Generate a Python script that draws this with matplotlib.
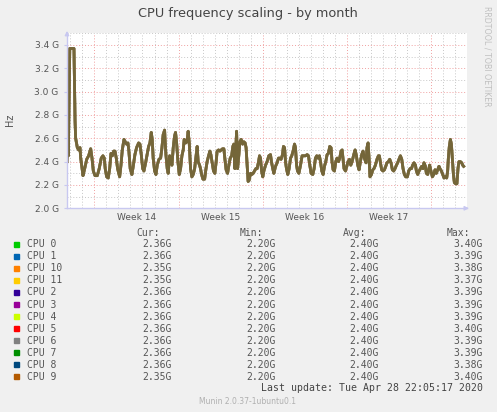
import matplotlib.pyplot as plt
from matplotlib.patches import Rectangle

# time in days since the left edge of the graph, frequency in GHz
days = [0.00, 0.05, 0.11, 0.23, 0.58, 0.67, 0.72, 0.86, 0.97, 1.08, 1.14, 1.22, 1.33, 1.47, 1.64, 1.80,
        1.97, 2.08, 2.19, 2.33, 2.52, 2.68, 2.85, 2.99, 3.10, 3.18, 3.30, 3.43, 3.55, 3.66, 3.77, 3.88,
        3.99, 4.10, 4.21, 4.38, 4.49, 4.60, 4.74, 4.85, 4.96, 5.07, 5.15, 5.26, 5.40, 5.51, 5.65, 5.79,
        5.96, 6.07, 6.18, 6.30, 6.40, 6.54, 6.68, 6.79, 6.90, 7.01, 7.09, 7.17, 7.29, 7.40, 7.51, 7.65,
        7.79, 7.90, 8.00, 8.12, 8.15, 8.23, 8.34, 8.42, 8.54, 8.62, 8.73, 8.84, 8.95, 9.03, 9.12, 9.23,
        9.34, 9.45, 9.56, 9.67, 9.75, 9.87, 9.98, 10.08, 10.17, 10.28, 10.39, 10.50, 10.62, 10.72, 10.83,
        10.91, 11.03, 11.11, 11.20, 11.31, 11.45, 11.55, 11.66, 11.78, 11.89, 11.97, 12.08, 12.19, 12.30,
        12.41, 12.49, 12.61, 12.72, 12.83, 12.94, 13.05, 13.13, 13.24, 13.36, 13.47, 13.58, 13.70, 13.80,
        13.88, 13.97, 14.11, 14.19, 14.30, 14.38, 14.49, 14.61, 14.71, 14.82, 14.90, 14.99, 15.07, 15.15,
        15.27, 15.38, 15.49, 15.60, 15.71, 15.82, 15.94, 16.02, 16.10, 16.19, 16.29, 16.38, 16.52, 16.65,
        16.79, 16.93, 17.01, 17.12, 17.21, 17.35, 17.48, 17.60, 17.71, 17.81, 17.93, 18.01, 18.10, 18.18,
        18.26, 18.37, 18.48, 18.60, 18.70, 18.81, 18.93, 19.01, 19.10, 19.18, 19.29, 19.43, 19.56, 19.70,
        19.84, 19.98, 20.09, 20.20, 20.31, 20.45, 20.56, 20.67, 20.78, 20.89, 21.00, 21.09, 21.20, 21.31,
        21.42, 21.53, 21.64, 21.75, 21.86, 21.97, 22.05, 22.14, 22.25, 22.36, 22.47, 22.59, 22.69, 22.80,
        22.89, 22.97, 23.05, 23.17, 23.28, 23.38, 23.50, 23.61, 23.72, 23.86, 23.97, 24.08, 24.19, 24.30,
        24.41, 24.52, 24.63, 24.74, 24.88, 24.96, 25.05, 25.13, 25.21, 25.33, 25.44, 25.54, 25.66, 25.79,
        25.91, 25.99, 26.08, 26.18, 26.29, 26.41, 26.52, 26.62, 26.74, 26.85, 26.96, 27.07, 27.18, 27.29,
        27.41, 27.51, 27.62, 27.74, 27.85, 27.96, 28.07, 28.18, 28.32, 28.43, 28.54, 28.66, 28.76, 28.87,
        28.99, 29.07, 29.18, 29.29, 29.41, 29.51, 29.62, 29.70, 29.82, 29.90, 30.01, 30.09, 30.17, 30.28,
        30.40, 30.51, 30.62, 30.73, 30.84, 30.95, 31.03, 31.15, 31.26, 31.37, 31.48, 31.59, 31.67, 31.73,
        31.81, 31.90, 31.98, 32.06, 32.15, 32.23, 32.34, 32.44, 32.53, 32.61, 32.73, 32.84, 32.92, 33.00]
freq = [2.40, 2.65, 2.45, 3.37, 3.37, 2.75, 2.60, 2.52, 2.50, 2.52, 2.43, 2.37, 2.28, 2.34, 2.42, 2.45,
        2.51, 2.43, 2.32, 2.28, 2.28, 2.34, 2.43, 2.45, 2.43, 2.34, 2.27, 2.26, 2.34, 2.47, 2.45, 2.49,
        2.49, 2.43, 2.34, 2.27, 2.37, 2.50, 2.59, 2.57, 2.55, 2.56, 2.49, 2.34, 2.29, 2.36, 2.46, 2.52,
        2.56, 2.55, 2.46, 2.34, 2.32, 2.39, 2.47, 2.53, 2.56, 2.65, 2.59, 2.43, 2.32, 2.29, 2.37, 2.42,
        2.43, 2.52, 2.63, 2.67, 2.60, 2.46, 2.34, 2.30, 2.45, 2.43, 2.37, 2.52, 2.62, 2.65, 2.56, 2.40,
        2.29, 2.34, 2.45, 2.50, 2.59, 2.56, 2.57, 2.66, 2.56, 2.34, 2.27, 2.29, 2.34, 2.43, 2.53,
        2.40, 2.37, 2.34, 2.29, 2.25, 2.25, 2.33, 2.40, 2.45, 2.49, 2.46, 2.39, 2.32, 2.30,
        2.40, 2.49, 2.50, 2.49, 2.50, 2.51, 2.51, 2.43, 2.33, 2.30, 2.37, 2.43, 2.45, 2.53,
        2.55, 2.34, 2.66, 2.34, 2.46, 2.57, 2.59, 2.55, 2.57, 2.56, 2.52, 2.37, 2.23, 2.24,
        2.30, 2.29, 2.30, 2.32, 2.34, 2.34, 2.40, 2.45, 2.43, 2.32, 2.27, 2.32, 2.37, 2.40,
        2.45, 2.46, 2.40, 2.34, 2.30, 2.36, 2.39, 2.43, 2.43, 2.42, 2.46, 2.53, 2.52, 2.40,
        2.34, 2.29, 2.34, 2.43, 2.45, 2.49, 2.55, 2.52, 2.37, 2.32, 2.30, 2.37, 2.45, 2.45,
        2.45, 2.46, 2.45, 2.37, 2.30, 2.29, 2.34, 2.43, 2.45, 2.43, 2.45, 2.40, 2.32, 2.29,
        2.36, 2.40, 2.46, 2.47, 2.53, 2.52, 2.40, 2.33, 2.32, 2.40, 2.43, 2.40, 2.43, 2.49,
        2.50, 2.42, 2.34, 2.32, 2.36, 2.40, 2.42, 2.37, 2.40, 2.46, 2.50, 2.45, 2.37, 2.33,
        2.40, 2.46, 2.49, 2.43, 2.39, 2.52, 2.56, 2.43, 2.27, 2.29, 2.33, 2.34, 2.37, 2.42,
        2.45, 2.45, 2.39, 2.33, 2.32, 2.33, 2.36, 2.39, 2.40, 2.42, 2.39, 2.33, 2.32, 2.34,
        2.37, 2.39, 2.42, 2.45, 2.42, 2.34, 2.29, 2.27, 2.27, 2.32, 2.34, 2.34, 2.37, 2.39,
        2.37, 2.32, 2.29, 2.32, 2.34, 2.36, 2.34, 2.39, 2.36, 2.30, 2.29, 2.33, 2.37, 2.32,
        2.27, 2.29, 2.33, 2.30, 2.33, 2.36, 2.34, 2.32, 2.29, 2.26, 2.27, 2.26, 2.32, 2.43,
        2.53, 2.59, 2.55, 2.43, 2.29, 2.22, 2.21, 2.21, 2.34, 2.40, 2.40, 2.39, 2.37, 2.36]

cpus = ["CPU 0", "CPU 1", "CPU 10", "CPU 11", "CPU 2", "CPU 3",
        "CPU 4", "CPU 5", "CPU 6", "CPU 7", "CPU 8", "CPU 9"]
colors = ["#00cc00", "#0066b3", "#ff8000", "#ffcc00", "#330099", "#990099",
          "#ccff00", "#ff0000", "#808080", "#008f00", "#00487d", "#b35a00"]
cur = [2.36, 2.36, 2.35, 2.35, 2.36, 2.36, 2.36, 2.36, 2.36, 2.36, 2.36, 2.35]
mins = [2.20] * 12
avg = [2.40] * 12
maxs = [3.40, 3.39, 3.38, 3.37, 3.39, 3.39, 3.39, 3.40, 3.39, 3.39, 3.38, 3.40]

week_starts = [2.28, 9.28, 16.28, 23.28, 30.28]
week_names = ["Week 14", "Week 15", "Week 16", "Week 17"]
y_ticks = [2.0, 2.2, 2.4, 2.6, 2.8, 3.0, 3.2, 3.4]
y_labels = ["2.0 G", "2.2 G", "2.4 G", "2.6 G", "2.8 G", "3.0 G", "3.2 G", "3.4 G"]

W, H = 497, 412
BG = "#f0f0f0"
TXT = "#555555"
AXC = "#c8c8f0"
MONO = "DejaVu Sans Mono"

fig = plt.figure(figsize=(W / 100, H / 100), dpi=100, facecolor=BG)
ax = fig.add_axes([67 / W, 1 - 208.3 / H, 400 / W, 175 / H])
ax.set_facecolor("white")

for name, c in zip(cpus, colors):
    ax.plot(days, freq, color=c, lw=2.0, alpha=0.25)

ax.set_xlim(0, 33.25)
ax.set_ylim(2.0, 3.5)

ax.set_yticks(y_ticks)
ax.set_yticklabels(y_labels)
ax.set_yticks([2.1, 2.3, 2.5, 2.7, 2.9, 3.1, 3.3, 3.5], minor=True)
ax.set_xticks(week_starts)
ax.set_xticklabels([])
day_lines = [0.28 + k for k in range(34) if k % 7 != 2]
ax.set_xticks(day_lines, minor=True)

ax.grid(True, which="major", color="#f0a0a0", lw=0.7, ls=(0, (1, 2)))
ax.grid(True, which="minor", color="#c8c8c8", lw=0.7, ls=(0, (1, 2)))
ax.set_axisbelow(True)

ax.tick_params(axis="y", which="major", length=2, color=AXC, labelsize=6.5,
               labelcolor=TXT, pad=4)
ax.tick_params(axis="y", which="minor", length=0)
ax.tick_params(axis="x", which="both", length=0)

for s in ["top", "right"]:
    ax.spines[s].set_visible(False)
for s in ["left", "bottom"]:
    ax.spines[s].set_color(AXC)
    ax.spines[s].set_linewidth(1)

# axis arrows
ax.annotate("", xy=(0, 1.03), xytext=(0, 0.98), xycoords="axes fraction",
            arrowprops=dict(arrowstyle="-|>", color=AXC, lw=1, mutation_scale=6),
            annotation_clip=False)
ax.annotate("", xy=(1.012, 0), xytext=(0.99, 0), xycoords="axes fraction",
            arrowprops=dict(arrowstyle="-|>", color=AXC, lw=1, mutation_scale=6),
            annotation_clip=False)

for i, wk in enumerate(week_names):
    mid = (week_starts[i] + week_starts[i + 1]) / 2
    ax.text(mid, -0.05, wk, transform=ax.get_xaxis_transform(), ha="center",
            va="center", fontsize=6.5, color=TXT)


def fx(x):
    return x / W


def fy(y):
    return 1 - y / H


fig.text(fx(248), fy(13), "CPU frequency scaling - by month", ha="center", va="center",
         fontsize=9.3, color="#444444")
fig.text(fx(10), fy(120), "Hz", rotation=90, ha="center", va="center", fontsize=7, color=TXT)
fig.text(fx(487.5), fy(56), "RRDTOOL / TOBI OETIKER", rotation=270, ha="center", va="center",
         fontsize=5.7, color="#c0c0c0")

# legend table
fig.text(fx(160), fy(233.3), "Cur:", ha="right", va="center", family=MONO, fontsize=7, color=TXT)
fig.text(fx(263.3), fy(233.3), "Min:", ha="right", va="center", family=MONO, fontsize=7, color=TXT)
fig.text(fx(366.7), fy(233.3), "Avg:", ha="right", va="center", family=MONO, fontsize=7, color=TXT)
fig.text(fx(470), fy(233.3), "Max:", ha="right", va="center", family=MONO, fontsize=7, color=TXT)

for i, name in enumerate(cpus):
    y = 244.3 + i * 12.04
    fig.patches.append(Rectangle((fx(14), fy(y + 2.7)), 5.4 / W, 5.4 / H,
                                 transform=fig.transFigure, color=colors[i]))
    fig.text(fx(26.7), fy(y), name, ha="left", va="center", family=MONO, fontsize=7, color=TXT)
    fig.text(fx(171.7), fy(y), "%.2fG" % cur[i], ha="right", va="center", family=MONO,
             fontsize=7, color=TXT)
    fig.text(fx(276), fy(y), "%.2fG" % mins[i], ha="right", va="center", family=MONO,
             fontsize=7, color=TXT)
    fig.text(fx(379), fy(y), "%.2fG" % avg[i], ha="right", va="center", family=MONO,
             fontsize=7, color=TXT)
    fig.text(fx(482.7), fy(y), "%.2fG" % maxs[i], ha="right", va="center", family=MONO,
             fontsize=7, color=TXT)

fig.text(fx(482.7), fy(388.3), "Last update: Tue Apr 28 22:05:17 2020", ha="right",
         va="center", family=MONO, fontsize=7.1, color="#444444")
fig.text(fx(247.8), fy(401.7), "Munin 2.0.37-1ubuntu0.1", ha="center", va="center",
         fontsize=5.5, color="#b0b0b0")

fig.savefig("out.png", dpi=100, facecolor=BG)
